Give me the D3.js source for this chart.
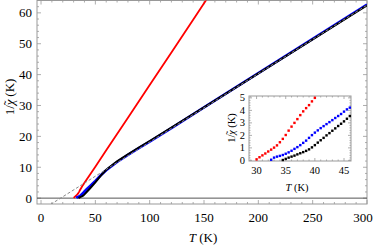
<!DOCTYPE html>
<html>
<head>
<meta charset="utf-8">
<script src="https://cdn.jsdelivr.net/npm/d3@7"></script>
<style>
  body { margin: 0; background: #fff; }
  svg { display: block; font-family: "Liberation Serif", "Times New Roman", serif; }
</style>
</head>
<body>
<svg width="374" height="245"></svg>
<script>
// main panel data
const redT = [30, 31, 32, 33, 34, 35, 36, 37, 38, 39, 40, 45, 50, 60, 80, 100, 120, 140, 160];
const redV = [0.08, 0.4, 0.71, 1.02, 1.45, 2.03, 2.7, 3.3, 3.92, 4.42, 5.0, 7.6, 10.2, 15.5, 26.0, 36.6, 47.2, 57.8, 68.4];
const blueT = [32.5, 33, 34, 35, 36, 37, 38, 39, 40, 42, 45, 50, 55, 60, 70, 80, 90, 100, 120, 150, 200, 250, 300];
const blueV = [0.05, 0.22, 0.36, 0.53, 0.77, 1.06, 1.4, 1.8, 2.22, 2.9, 3.9, 5.6, 7.4, 9.0, 11.7, 14.0, 16.2, 18.3, 22.7, 29.4, 40.5, 51.6, 62.7];
const blackT = [34.5, 35, 36, 37, 38, 39, 40, 42, 45, 50, 55, 60, 70, 80, 90, 100, 120, 150, 200, 250, 300];
const blackV = [0.03, 0.12, 0.3, 0.48, 0.66, 0.88, 1.22, 2.0, 3.12, 5.1, 7.3, 9.2, 11.9, 14.2, 16.4, 18.5, 22.8, 29.4, 40.4, 51.4, 62.4];
const fitT = [5, 300];
const fitV = [-2.88, 62.5];
const xTicks = [0, 50, 100, 150, 200, 250, 300];
const yTicks = [0, 10, 20, 30, 40, 50, 60];

// inset data
const inRedT = [30, 30.5, 31, 31.5, 32, 32.5, 33, 33.5, 34, 34.5, 35, 35.5, 36, 36.5, 37, 37.5, 38, 38.5, 39, 39.5, 40];
const inRedV = [0.08, 0.25, 0.4, 0.55, 0.71, 0.86, 1.02, 1.2, 1.45, 1.72, 2.03, 2.38, 2.7, 3.0, 3.3, 3.62, 3.92, 4.18, 4.42, 4.72, 5.0];
const inBlueT = [32.5, 33, 33.5, 34, 34.5, 35, 35.5, 36, 36.5, 37, 37.5, 38, 38.5, 39, 39.5, 40, 40.5, 41, 41.5, 42, 42.5, 43, 43.5, 44, 44.5, 45, 45.5, 46];
const inBlueV = [0.05, 0.22, 0.3, 0.36, 0.43, 0.53, 0.64, 0.77, 0.92, 1.06, 1.22, 1.4, 1.58, 1.8, 2.02, 2.22, 2.4, 2.58, 2.74, 2.9, 3.06, 3.22, 3.39, 3.55, 3.71, 3.9, 4.08, 4.22];
const inBlackT = [34.5, 35, 35.5, 36, 36.5, 37, 37.5, 38, 38.5, 39, 39.5, 40, 40.5, 41, 41.5, 42, 42.5, 43, 43.5, 44, 44.5, 45, 45.5, 46];
const inBlackV = [0.03, 0.12, 0.22, 0.3, 0.38, 0.48, 0.57, 0.66, 0.76, 0.88, 1.04, 1.22, 1.42, 1.61, 1.8, 2.0, 2.18, 2.37, 2.56, 2.75, 2.93, 3.12, 3.33, 3.55];
const inXTicks = [30, 35, 40, 45];
const inYTicks = [0, 1, 2, 3, 4, 5];

const svg = d3.select("svg");
const frameCol = "#999";

const x = d3.scaleLinear().domain([-3.7, 300]).range([37, 367]);
const y = d3.scaleLinear().domain([-1.9, 64]).range([204, 0.5]);

const zip = (a, b) => a.map((t, i) => [t, b[i]]);

svg.append("clipPath").attr("id", "clipMain")
  .append("rect")
  .attr("x", x.range()[0]).attr("y", y.range()[1])
  .attr("width", x.range()[1] - x.range()[0])
  .attr("height", y.range()[0] - y.range()[1]);

// frame with inward ticks, Mathematica style
function frame(g, xs, ys, xMaj, xMin, yMaj, yMin, majLen, minLen) {
  const [x0, x1] = xs.range();
  const [y0, y1] = ys.range();
  g.append("rect")
    .attr("x", x0).attr("y", y1)
    .attr("width", x1 - x0).attr("height", y0 - y1)
    .attr("fill", "none").attr("stroke", frameCol).attr("stroke-width", 1);
  const tk = g.append("g").attr("stroke", frameCol).attr("stroke-width", 0.8);
  xMin.forEach(v => {
    const len = xMaj.includes(v) ? majLen : minLen;
    tk.append("line").attr("x1", xs(v)).attr("x2", xs(v)).attr("y1", y0).attr("y2", y0 - len);
    tk.append("line").attr("x1", xs(v)).attr("x2", xs(v)).attr("y1", y1).attr("y2", y1 + len);
  });
  yMin.forEach(v => {
    const len = yMaj.includes(v) ? majLen : minLen;
    tk.append("line").attr("y1", ys(v)).attr("y2", ys(v)).attr("x1", x0).attr("x2", x0 + len);
    tk.append("line").attr("y1", ys(v)).attr("y2", ys(v)).attr("x1", x1).attr("x2", x1 - len);
  });
}

// 1/chi~ (K) label with the tilde set over the chi
function chiLabel(sel, size) {
  sel.append("tspan").text("1/");
  sel.append("tspan").attr("font-style", "italic").text("\u03C7");
  sel.append("tspan").attr("dx", -0.42 * size).attr("dy", -0.1 * size).text("\u02DC");
  sel.append("tspan").attr("dx", 0.05 * size).attr("dy", 0.1 * size).text(" (K)");
}

const mainXMinor = d3.range(0, 301, 10);
const mainYMinor = d3.range(0, 64, 2);
frame(svg.append("g"), x, y, xTicks, mainXMinor, yTicks, mainYMinor, 4, 2);

// zero line
svg.append("line")
  .attr("x1", x.range()[0]).attr("x2", x.range()[1])
  .attr("y1", y(0)).attr("y2", y(0))
  .attr("stroke", "#555").attr("stroke-width", 1);

const line = d3.line().x(d => x(d[0])).y(d => y(d[1]));
const plot = svg.append("g").attr("clip-path", "url(#clipMain)");

plot.append("path").datum(zip(redT, redV))
  .attr("d", line).attr("fill", "none").attr("stroke", "#f00").attr("stroke-width", 1.8);
plot.append("path").datum(zip(blueT, blueV))
  .attr("d", line).attr("fill", "none").attr("stroke", "#00f").attr("stroke-width", 2.6);
plot.append("path").datum(zip(blackT, blackV))
  .attr("d", line).attr("fill", "none").attr("stroke", "#000").attr("stroke-width", 2);
plot.append("path").datum(zip(fitT, fitV))
  .attr("d", line).attr("fill", "none").attr("stroke", "#888")
  .attr("stroke-width", 1).attr("stroke-dasharray", "3,2");

// tick labels
svg.append("g").selectAll("text").data(xTicks).enter().append("text")
  .attr("x", d => Math.min(x(d), 363)).attr("y", 222)
  .attr("text-anchor", "middle").attr("font-size", 13)
  .text(d => d);
svg.append("g").selectAll("text").data(yTicks).enter().append("text")
  .attr("x", 32).attr("y", d => y(d) + 4.5)
  .attr("text-anchor", "end").attr("font-size", 13)
  .text(d => d);

// axis labels
const xl = svg.append("text").attr("x", 203).attr("y", 242)
  .attr("text-anchor", "middle").attr("font-size", 13);
xl.append("tspan").attr("font-style", "italic").text("T");
xl.append("tspan").text(" (K)");

const yl = svg.append("text")
  .attr("transform", "translate(14,97) rotate(-90)")
  .attr("text-anchor", "middle").attr("font-size", 13);
chiLabel(yl, 13);

// inset
const ix = d3.scaleLinear().domain([28.7, 46.2]).range([249, 351]);
const iy = d3.scaleLinear().domain([-0.05, 5.15]).range([161, 96]);
const inset = svg.append("g");
inset.append("rect")
  .attr("x", 249).attr("y", 96).attr("width", 102).attr("height", 65)
  .attr("fill", "#fff");
frame(inset, ix, iy, inXTicks, d3.range(29, 47, 1), inYTicks, d3.range(0, 5.1, 0.2).map(v => +v.toFixed(1)), 3, 1.5);

const sq = 2.4;
[[inRedT, inRedV, "#f00"], [inBlueT, inBlueV, "#00f"], [inBlackT, inBlackV, "#000"]].forEach(([ts, vs, c]) => {
  inset.append("g").selectAll("rect").data(zip(ts, vs)).enter().append("rect")
    .attr("x", d => ix(d[0]) - sq / 2).attr("y", d => iy(d[1]) - sq / 2)
    .attr("width", sq).attr("height", sq).attr("fill", c);
});

inset.append("g").selectAll("text").data(inXTicks).enter().append("text")
  .attr("x", d => ix(d)).attr("y", 174)
  .attr("text-anchor", "middle").attr("font-size", 10.5)
  .text(d => d);
inset.append("g").selectAll("text").data(inYTicks).enter().append("text")
  .attr("x", 245).attr("y", d => iy(d) + 3.5)
  .attr("text-anchor", "end").attr("font-size", 10.5)
  .text(d => d);

const ixl = inset.append("text").attr("x", 297).attr("y", 191)
  .attr("text-anchor", "middle").attr("font-size", 10.5);
ixl.append("tspan").attr("font-style", "italic").text("T");
ixl.append("tspan").text(" (K)");

const iyl = inset.append("text")
  .attr("transform", "translate(235,128) rotate(-90)")
  .attr("text-anchor", "middle").attr("font-size", 10.5);
chiLabel(iyl, 10.5);
</script>
</body>
</html>
